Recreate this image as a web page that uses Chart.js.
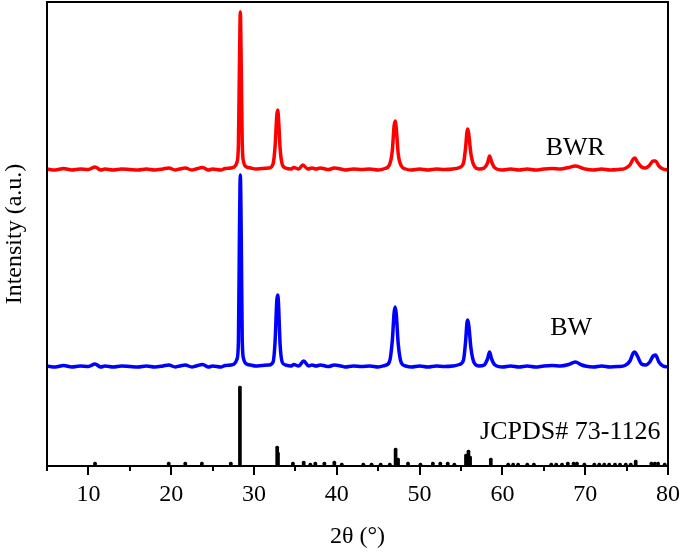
<!DOCTYPE html>
<html>
<head>
<meta charset="utf-8">
<script src="https://cdn.jsdelivr.net/npm/chart.js@4.4.0/dist/chart.umd.min.js"></script>
<style>
  body { margin: 0; background: #fff; }
  #wrap { width: 685px; height: 555px; }
</style>
</head>
<body>
<div id="wrap"><canvas id="xrdChart"></canvas></div>
<script>
// 2theta (deg), intensity (a.u., offset traces)
const bwrPoints = [
  [5,297],[6,296],[7,297.5],[8,296],[9,297],[10,296.5],[10.8,299],[11.5,296],[12,297],[13,296],[14,297],[15,296.5],
  [16,296],[17,297],[18,296],[19,297],[19.7,298],[20.5,296],[21,297],[21.7,298],[22.5,296],[23,297],[23.8,298.5],
  [24.5,296],[25,297],[26,296],[26.5,297.5],[27.2,298],[27.6,299],[27.95,304],[28.12,322],[28.24,400],[28.35,454],
  [28.46,400],[28.58,322],[28.75,304],[29.1,299],[29.6,298],[30.2,297],[31,297.5],[31.8,298],[32.3,302],[32.55,320],
  [32.75,350],[32.85,356],[32.95,349],[33.15,318],[33.4,302],[33.8,298],[34.5,297],[34.8,298.5],[35.4,297],[35.9,301],
  [36.5,297],[37,298],[37.5,297],[38,298],[38.6,297],[39,296.5],[39.7,298],[40.5,297],[41,296],[42,297],[43,296.5],
  [44,297],[45,296],[45.8,297.5],[46.35,301],[46.7,315],[46.92,340],[47.05,345],[47.18,338],[47.42,312],[47.8,300],
  [48.3,297],[49,296],[50,297],[51,296],[52,297],[53,296.5],[54,297],[54.8,298.5],[55.3,303],[55.55,318],[55.72,334],
  [55.82,337],[55.95,331],[56.2,312],[56.6,300],[57.2,297],[57.8,298],[58.2,303],[58.45,310],[58.7,304],[59.1,298],
  [60,296],[61,297],[62,296],[63,297],[64,296],[65,297],[66,297.5],[67,297],[68,298.5],[68.8,300],[69.6,298],[70,297],
  [71,296],[72,297],[73,296],[74,296.5],[74.8,297.5],[75.4,301],[75.8,307],[76,308],[76.3,304],[76.8,299],[77.3,298],
  [77.8,301],[78.2,305],[78.5,305],[78.9,300],[79.4,297],[80,296]
];
const bwPoints = [
  [5,100],[6,99],[7,100.5],[8,99],[9,100],[10,99.5],[10.8,102],[11.5,99],[12,100],[13,99],[14,100],[15,99.5],
  [16,99],[17,100],[18,99],[19,100],[19.7,101],[20.5,99],[21,100],[21.7,101],[22.5,99],[23,100],[23.8,101.5],
  [24.5,99],[25,100],[26,99],[26.5,100.5],[27.2,101],[27.6,102],[27.95,107],[28.12,125],[28.24,230],[28.35,291],
  [28.46,230],[28.58,125],[28.75,107],[29.1,102],[29.6,101],[30.2,100],[31,100.5],[31.8,101],[32.3,104],[32.55,125],
  [32.75,165],[32.85,171],[32.95,164],[33.15,122],[33.4,104],[33.8,101],[34.5,100],[34.8,101.5],[35.4,100],[36,105],
  [36.6,100],[37,101],[37.5,100],[38,101],[38.6,100],[39,99.5],[39.7,101],[40.5,100],[41,99],[42,100],[43,99.5],
  [44,100],[45,99],[45.8,100.5],[46.35,104],[46.7,125],[46.92,153],[47.05,159],[47.18,152],[47.42,122],[47.8,103],
  [48.3,100],[49,99],[50,100],[51,99],[52,100],[53,99.5],[54,100],[54.8,101.5],[55.3,106],[55.55,124],[55.72,143],
  [55.82,146],[55.95,140],[56.2,118],[56.6,103],[57.2,100],[57.8,101],[58.2,107],[58.45,114],[58.7,107],[59.1,101],
  [60,99],[61,100],[62,99],[63,100],[64,99],[65,100],[66,100.5],[67,100],[68,101.5],[68.8,104],[69.6,101],[70,100],
  [71,99],[72,100],[73,99],[74,99.5],[74.8,100.5],[75.4,105],[75.8,113],[76,114],[76.3,110],[76.8,102],[77.3,101],
  [77.8,104],[78.2,110],[78.5,111],[78.9,104],[79.4,100],[80,99]
];
// JCPDS 73-1126 reference lines
const stickTheta  = [10.8,19.7,21.7,23.7,27.2,28.3,32.8,32.9,34.7,36.0,36.8,37.4,38.5,39.7,40.6,43.2,44.2,45.3,46.4,
  47.1,47.4,48.6,50.1,51.6,52.5,53.4,54.2,55.6,55.9,56.1,58.6,60.7,61.3,61.9,63.0,63.8,65.9,66.5,67.2,67.9,68.6,
  69.0,69.9,71.1,71.7,72.3,72.9,73.6,74.2,74.9,75.5,76.1,78.0,78.4,78.8,79.6];
const stickHeight = [4,4,4,4,4,80,20,14,4,5,3,4,4,5,3,3,3,3,3,18,8,4,3,4,4,4,3,12,16,10,8,3,3,3,3,3,3,3,3,4,4,
  4,3,3,3,3,3,3,3,3,3,6,4,4,4,3];

const xMajor = [10,20,30,40,50,60,70,80];
const xAllTicks = [5,10,15,20,25,30,35,40,45,50,55,60,65,70,75,80];

const serif = '"Liberation Serif", "DejaVu Serif", serif';

const framePlugin = {
  id: 'frame',
  afterDraw(chart) {
    const { ctx, chartArea: a, scales } = chart;
    ctx.save();
    ctx.strokeStyle = '#000';
    ctx.lineWidth = 2;
    ctx.strokeRect(a.left, a.top, a.right - a.left, a.bottom - a.top);
    // ticks on x axis
    xAllTicks.forEach(v => {
      const px = Math.round(scales.x.getPixelForValue(v));
      const len = xMajor.includes(v) ? 9 : 5;
      ctx.beginPath();
      ctx.moveTo(px, a.bottom);
      ctx.lineTo(px, a.bottom + len);
      ctx.stroke();
    });
    // labels
    ctx.fillStyle = '#000';
    ctx.textAlign = 'center';
    ctx.textBaseline = 'middle';
    ctx.font = '26px ' + serif;
    ctx.fillText('BWR', scales.x.getPixelForValue(68.8), scales.y.getPixelForValue(318));
    ctx.fillText('BW', scales.x.getPixelForValue(68.3), scales.y.getPixelForValue(138));
    ctx.fillText('JCPDS# 73-1126', scales.x.getPixelForValue(68.2), scales.y.getPixelForValue(34));
    ctx.restore();
  }
};

new Chart(document.getElementById('xrdChart'), {
  type: 'line',
  data: {
    datasets: [
      {
        label: 'BWR',
        data: bwrPoints.map(p => ({ x: p[0], y: p[1] })),
        borderColor: '#ff0000',
        borderWidth: 3.5,
        pointRadius: 0,
        cubicInterpolationMode: 'monotone'
      },
      {
        label: 'BW',
        data: bwPoints.map(p => ({ x: p[0], y: p[1] })),
        borderColor: '#0000ff',
        borderWidth: 3.5,
        pointRadius: 0,
        cubicInterpolationMode: 'monotone'
      },
      {
        type: 'bar',
        label: 'JCPDS',
        data: stickTheta.map((t, i) => ({ x: t, y: stickHeight[i] })),
        backgroundColor: '#000',
        barThickness: 3,
        borderRadius: 1.5,
        borderSkipped: 'bottom'
      }
    ]
  },
  options: {
    responsive: true,
    maintainAspectRatio: false,
    animation: false,
    layout: { padding: { top: 2, right: 17, left: 0, bottom: 0 } },
    plugins: { legend: { display: false }, tooltip: { enabled: false } },
    scales: {
      x: {
        type: 'linear',
        min: 5,
        max: 80,
        offset: false,
        afterBuildTicks: s => { s.ticks = xAllTicks.map(v => ({ value: v })); },
        afterFit: s => { s.height = 89; s.paddingLeft = 0; s.paddingRight = 0; },
        grid: { display: false, drawTicks: false },
        border: { display: false },
        ticks: {
          autoSkip: false,
          maxRotation: 0,
          padding: 14,
          color: '#000',
          font: { family: serif, size: 24 },
          callback: v => (xMajor.includes(v) ? String(v) : '')
        },
        title: {
          display: true,
          text: '2θ (°)',
          color: '#000',
          font: { family: serif, size: 24 },
          padding: { top: 0, bottom: 4 }
        }
      },
      y: {
        min: 0,
        max: 464,
        afterFit: s => { s.width = 47; },
        grid: { display: false, drawTicks: false },
        border: { display: false },
        ticks: { display: false },
        title: {
          display: true,
          text: 'Intensity (a.u.)',
          color: '#000',
          font: { family: serif, size: 24 },
          padding: { top: 0, bottom: 0 }
        }
      }
    }
  },
  plugins: [framePlugin]
});
</script>
</body>
</html>
